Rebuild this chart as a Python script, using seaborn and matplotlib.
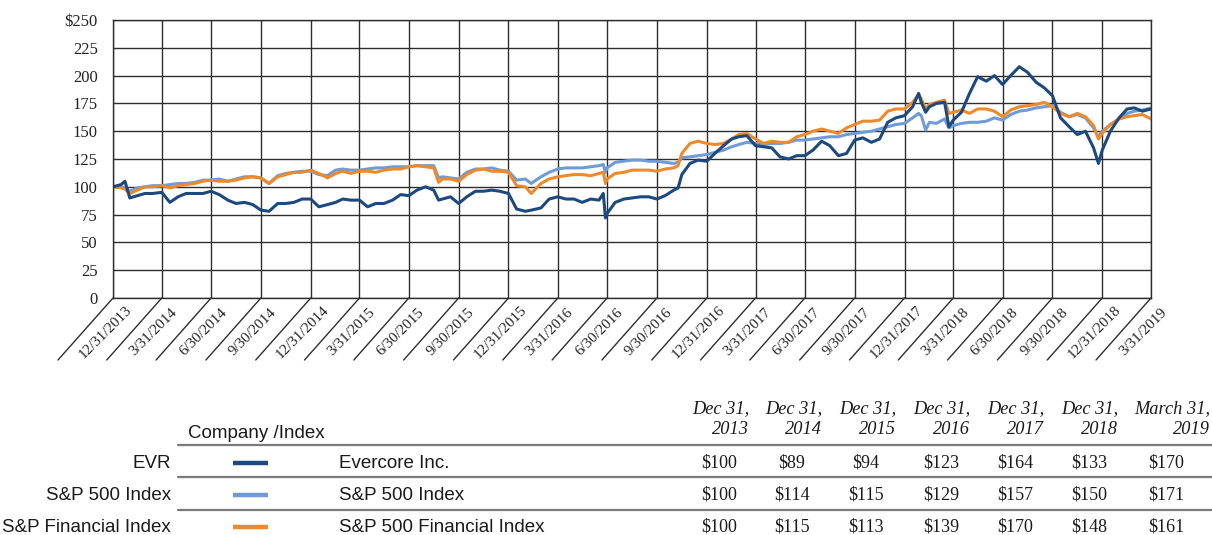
import matplotlib
matplotlib.use("Agg")
import matplotlib.pyplot as plt
import matplotlib.dates as mdates
from matplotlib.lines import Line2D
import seaborn as sns
import pandas as pd

# ---------------- data ----------------
dates = [
    "2013-12-31",
    "2014-01-15", "2014-01-22", "2014-01-31", "2014-02-14", "2014-02-28", "2014-03-14", "2014-03-31",
    "2014-04-15", "2014-04-30", "2014-05-15", "2014-05-31", "2014-06-15", "2014-06-30",
    "2014-07-15", "2014-07-31", "2014-08-15", "2014-08-31", "2014-09-15", "2014-09-30",
    "2014-10-15", "2014-10-31", "2014-11-15", "2014-11-30", "2014-12-15", "2014-12-31",
    "2015-01-15", "2015-01-31", "2015-02-15", "2015-02-28", "2015-03-15", "2015-03-31",
    "2015-04-15", "2015-04-30", "2015-05-15", "2015-05-31", "2015-06-15", "2015-06-30",
    "2015-07-15", "2015-07-31", "2015-08-15", "2015-08-24", "2015-08-31", "2015-09-15", "2015-09-30",
    "2015-10-15", "2015-10-31", "2015-11-15", "2015-11-30", "2015-12-15", "2015-12-31",
    "2016-01-15", "2016-01-31", "2016-02-11", "2016-02-29", "2016-03-15", "2016-03-31",
    "2016-04-15", "2016-04-30", "2016-05-15", "2016-05-31", "2016-06-15", "2016-06-23", "2016-06-27", "2016-06-30",
    "2016-07-15", "2016-07-31", "2016-08-15", "2016-08-31", "2016-09-15", "2016-09-30",
    "2016-10-15", "2016-10-31", "2016-11-08", "2016-11-15", "2016-11-30", "2016-12-15", "2016-12-31",
    "2017-01-15", "2017-01-31", "2017-02-15", "2017-02-28", "2017-03-15", "2017-03-31",
    "2017-04-15", "2017-04-30", "2017-05-15", "2017-05-31", "2017-06-15", "2017-06-30",
    "2017-07-15", "2017-07-31", "2017-08-15", "2017-08-31", "2017-09-15", "2017-09-30",
    "2017-10-15", "2017-10-31", "2017-11-15", "2017-11-30", "2017-12-15", "2017-12-31",
    "2018-01-15", "2018-01-26", "2018-01-31", "2018-02-08", "2018-02-15", "2018-02-28", "2018-03-15", "2018-03-23", "2018-03-31",
    "2018-04-15", "2018-04-30", "2018-05-15", "2018-05-31", "2018-06-15", "2018-06-30",
    "2018-07-15", "2018-07-31", "2018-08-15", "2018-08-31", "2018-09-15", "2018-09-30",
    "2018-10-15", "2018-10-31", "2018-11-15", "2018-11-30", "2018-12-15", "2018-12-24", "2018-12-31",
    "2019-01-15", "2019-01-31", "2019-02-15", "2019-02-28", "2019-03-15", "2019-03-31",
]

evr = [
    100,
    102, 105, 90, 92, 94, 94, 95,
    86, 91, 94, 94, 94, 96,
    93, 88, 85, 86, 84, 79,
    78, 85, 85, 86, 89, 89,
    82, 84, 86, 89, 88, 88,
    82, 85, 85, 88, 93, 92,
    97, 100, 97, 88, 89, 91, 85,
    91, 96, 96, 97, 96, 94,
    80, 78, 79, 81, 89, 91,
    89, 89, 86, 89, 88, 94, 72, 76,
    86, 89, 90, 91, 91, 89,
    92, 97, 99, 111, 121, 124, 123,
    130, 137, 143, 145, 146, 137,
    136, 135, 127, 125, 128, 128,
    133, 141, 137, 128, 130, 142,
    144, 140, 143, 158, 162, 164,
    172, 184, 176, 167, 172, 175, 176, 154, 160,
    167, 184, 199, 195, 200, 192,
    200, 208, 203, 194, 189, 182,
    162, 154, 147, 150, 135, 121, 133,
    150, 162, 170, 171, 168, 170,
]

sp500 = [
    100,
    100, 99, 96, 99, 100, 101, 101,
    102, 103, 103, 104, 106, 106,
    107, 105, 107, 109, 109, 108,
    103, 110, 112, 113, 114, 114,
    111, 110, 115, 116, 115, 115,
    116, 117, 117, 118, 118, 118,
    119, 119, 119, 108, 109, 108, 107,
    113, 116, 116, 117, 115, 114,
    106, 107, 103, 109, 113, 116,
    117, 117, 117, 118, 119, 120, 113, 117,
    122, 123, 124, 124, 123, 123,
    122, 121, 122, 126, 127, 128, 129,
    131, 133, 136, 138, 140, 139,
    138, 139, 139, 140, 142, 142,
    143, 144, 145, 145, 147, 148,
    149, 150, 152, 154, 156, 157,
    162, 166, 164, 151, 158, 157, 161, 153, 155,
    157, 158, 158, 159, 162, 160,
    165, 168, 169, 171, 172, 173,
    167, 163, 165, 162, 153, 145, 150,
    156, 161, 166, 168, 169, 171,
]

spfin = [
    100,
    99, 98, 94, 97, 100, 100, 101,
    99, 101, 102, 103, 105, 106,
    105, 105, 106, 108, 109, 108,
    103, 109, 111, 113, 113, 115,
    112, 108, 112, 114, 112, 114,
    114, 113, 115, 116, 116, 118,
    119, 118, 117, 104, 107, 107, 105,
    111, 115, 116, 114, 114, 113,
    101, 100, 94, 103, 107, 109,
    110, 111, 111, 110, 112, 113, 103, 107,
    112, 113, 115, 115, 115, 114,
    116, 117, 119, 130, 139, 141, 139,
    138, 139, 143, 147, 148, 143,
    139, 141, 140, 140, 145, 147,
    150, 152, 150, 148, 153, 156,
    159, 159, 160, 168, 170, 170,
    176, 183, 179, 170, 174, 176, 178, 166, 167,
    169, 166, 170, 170, 168, 163,
    169, 172, 173, 174, 176, 172,
    166, 163, 166, 163, 155, 143, 148,
    156, 161, 163, 164, 165, 161,
]

series_names = ["Evercore Inc.", "S&P 500 Index", "S&P 500 Financial Index"]
series_colors = ["#1C4A80", "#6F9BD6", "#EE8A2C"]

quarter_dates = [
    "2013-12-31", "2014-03-31", "2014-06-30", "2014-09-30", "2014-12-31", "2015-03-31",
    "2015-06-30", "2015-09-30", "2015-12-31", "2016-03-31", "2016-06-30", "2016-09-30",
    "2016-12-31", "2017-03-31", "2017-06-30", "2017-09-30", "2017-12-31", "2018-03-31",
    "2018-06-30", "2018-09-30", "2018-12-31", "2019-03-31",
]
quarter_labels = [
    "12/31/2013", "3/31/2014", "6/30/2014", "9/30/2014", "12/31/2014", "3/31/2015",
    "6/30/2015", "9/30/2015", "12/31/2015", "3/31/2016", "6/30/2016", "9/30/2016",
    "12/31/2016", "3/31/2017", "6/30/2017", "9/30/2017", "12/31/2017", "3/31/2018",
    "6/30/2018", "9/30/2018", "12/31/2018", "3/31/2019",
]
y_ticks = [0, 25, 50, 75, 100, 125, 150, 175, 200, 225, 250]
y_labels = ["0", "25", "50", "75", "100", "125", "150", "175", "200", "225", "$250"]

table_headers = ["Dec 31,\n2013", "Dec 31,\n2014", "Dec 31,\n2015", "Dec 31,\n2016",
                 "Dec 31,\n2017", "Dec 31,\n2018", "March 31,\n2019"]
row_tickers = ["EVR", "S&P 500 Index", "S&P Financial Index"]
row_names = ["Evercore Inc.", "S&P 500 Index", "S&P 500 Financial Index"]
evr_table = [100, 89, 94, 123, 164, 133, 170]
sp500_table = [100, 114, 115, 129, 157, 150, 171]
spfin_table = [100, 115, 113, 139, 170, 148, 161]

# ---------------- figure ----------------
sns.set_style("white")
plt.rcParams["font.family"] = ["Liberation Serif", "DejaVu Serif"]

W, H = 1212, 535
fig = plt.figure(figsize=(W / 100, H / 100), dpi=100)

def fx(px):
    return px / W

def fy(py):
    return 1 - py / H

ax_left, ax_right, ax_top, ax_bottom = 113, 1151, 20, 298
ax = fig.add_axes([fx(ax_left), fy(ax_bottom), fx(ax_right - ax_left), (ax_bottom - ax_top) / H])

df = pd.DataFrame({
    "date": pd.to_datetime(dates * 3),
    "value": evr + sp500 + spfin,
    "series": [series_names[0]] * len(dates) + [series_names[1]] * len(dates) + [series_names[2]] * len(dates),
})
palette = dict(zip(series_names, series_colors))
sns.lineplot(data=df, x="date", y="value", hue="series",
             hue_order=[series_names[1], series_names[2], series_names[0]],
             palette=palette, linewidth=2.2, estimator=None, legend=False, ax=ax)

qd = [mdates.date2num(pd.Timestamp(d)) for d in quarter_dates]
ax.set_xlim(qd[0], qd[-1])
ax.set_ylim(0, 250)
ax.set_xticks(qd)
ax.set_xticklabels([])
ax.set_yticks(y_ticks)
ax.set_yticklabels(y_labels, fontsize=12, color="#222222")
ax.tick_params(axis="both", length=0)
ax.tick_params(axis="y", pad=11)
ax.set_xlabel("")
ax.set_ylabel("")
ax.grid(True, color="#2e2e2e", linewidth=1.0)
ax.set_axisbelow(True)
for s in ax.spines.values():
    s.set_visible(True)
    s.set_color("#2e2e2e")
    s.set_linewidth(1.0)

pt = 0.72  # points per pixel at 100 dpi
for x, lab in zip(qd, quarter_labels):
    ax.annotate("", xy=(x, 0), xycoords="data",
                xytext=(-55 * pt, -62 * pt), textcoords="offset points",
                arrowprops=dict(arrowstyle="-", color="#2e2e2e", lw=1.0,
                                shrinkA=0, shrinkB=0),
                annotation_clip=False)
    ax.annotate(lab, xy=(x, 0), xycoords="data",
                xytext=(-8 * pt, -34 * pt), textcoords="offset points",
                rotation=45, rotation_mode="anchor", ha="center", va="center",
                fontsize=10.8, color="#222222", annotation_clip=False)

# ---------------- table ----------------
sans = ["Liberation Sans", "DejaVu Sans"]
serif = ["Liberation Serif", "DejaVu Serif"]
txt_color = "#1a1a1a"

fig.text(fx(188), fy(433), "Company /Index", ha="left", va="center",
         family=sans, fontsize=13.5, color=txt_color)

header_right = [749, 822, 896, 970, 1044, 1118, 1210]
for xr, h in zip(header_right, table_headers):
    fig.text(fx(xr), fy(419), h, ha="right", va="center", family=serif,
             style="italic", fontsize=13.2, color=txt_color, linespacing=1.25,
             multialignment="right")

rule_ys = [445, 477, 510]
for ry in rule_ys:
    fig.add_artist(Line2D([fx(178), fx(1212)], [fy(ry), fy(ry)],
                          transform=fig.transFigure, color="#7a7a7a", lw=1.6))

row_ys = [463, 495, 527]
value_centers = [719, 792, 866, 941, 1015, 1089, 1166]
table_values = [evr_table, sp500_table, spfin_table]
for i, ry in enumerate(row_ys):
    fig.text(fx(171), fy(ry), row_tickers[i], ha="right", va="center",
             family=sans, fontsize=13.5, color=txt_color)
    fig.add_artist(Line2D([fx(233), fx(268)], [fy(ry), fy(ry)],
                          transform=fig.transFigure, color=series_colors[i], lw=3.2,
                          solid_capstyle="butt"))
    fig.text(fx(339), fy(ry), row_names[i], ha="left", va="center",
             family=sans, fontsize=13.5, color=txt_color)
    for xc, v in zip(value_centers, table_values[i]):
        fig.text(fx(xc), fy(ry), f"${v}", ha="center", va="center",
                 family=serif, fontsize=13, color=txt_color)

fig.savefig("out.png", dpi=100)
